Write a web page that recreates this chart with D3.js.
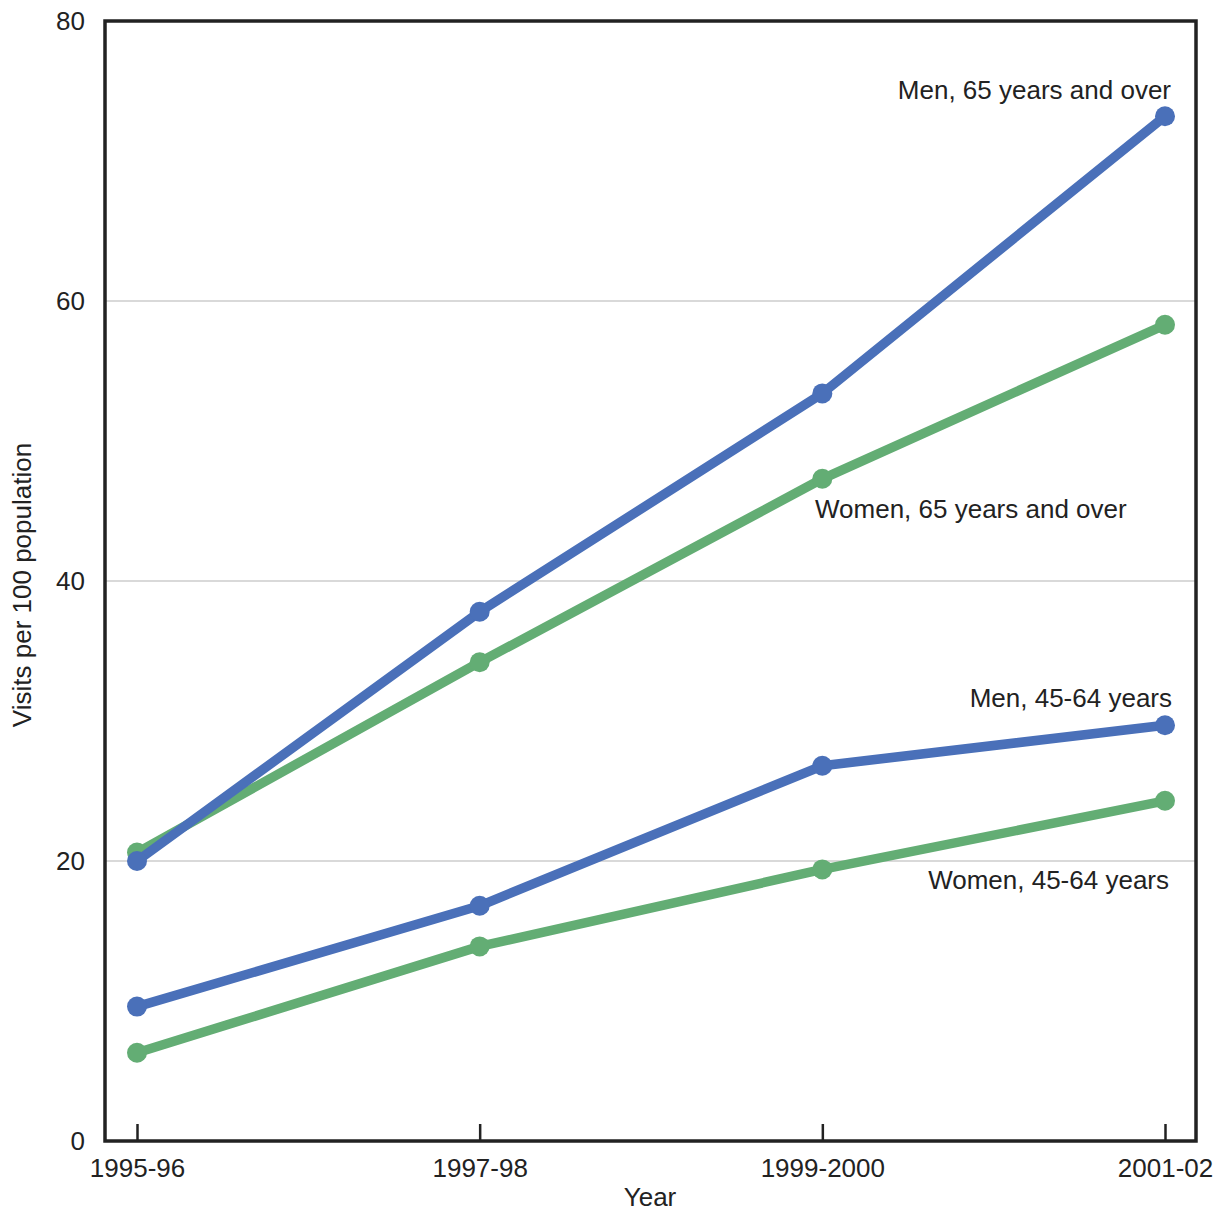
<!DOCTYPE html>
<html><head><meta charset="utf-8">
<script src="https://cdn.jsdelivr.net/npm/d3@7"></script>
<style>body{margin:0;background:#fff}text{font-family:"Liberation Sans",Arial,sans-serif;fill:#222}</style>
</head><body><svg id="c" width="1221" height="1213"></svg>
<script>
const years = ["1995-96","1997-98","1999-2000","2001-02"];
const men65 = [20.0, 37.8, 53.4, 73.2];
const women65 = [20.6, 34.2, 47.3, 58.3];
const men4564 = [9.6, 16.8, 26.8, 29.7];
const women4564 = [6.3, 13.9, 19.4, 24.3];
const yTicks = [0, 20, 40, 60, 80];
const seriesNames = ["Men, 65 years and over","Women, 65 years and over","Men, 45-64 years","Women, 45-64 years"];

const blue = "#4a70b9", green = "#63ad74";
const FS = "26px";
const svg = d3.select("#c");
const L = 105, R = 1196, T = 21, B = 1141;
const x = d3.scalePoint().domain(years).range([137, 1165]);
const y = d3.scaleLinear().domain([0, 80]).range([B, T]);

// gridlines
svg.append("g").selectAll("line").data(yTicks.filter(d => d > 0 && d < 80)).join("line")
  .attr("x1", L).attr("x2", R).attr("y1", d => y(d)).attr("y2", d => y(d))
  .attr("stroke", "#d9d9d9").attr("stroke-width", 2);

// y axis labels
const ya = svg.append("g").attr("transform", `translate(${L},0)`)
  .call(d3.axisLeft(y).tickValues(yTicks).tickSize(0).tickPadding(20));
ya.select(".domain").remove();
ya.selectAll("text").style("font-size", FS).attr("fill", "#222");

// x axis
const xa = svg.append("g").attr("transform", `translate(0,${B})`)
  .call(d3.axisBottom(x).tickSize(-17).tickPadding(22));
xa.select(".domain").remove();
xa.selectAll("line").attr("stroke", "#222").attr("stroke-width", 2.5);
xa.selectAll("text").style("font-size", FS).attr("fill", "#222").attr("dy", "0.55em");

// frame
svg.append("rect").attr("x", L).attr("y", T).attr("width", R - L).attr("height", B - T)
  .attr("fill", "none").attr("stroke", "#222").attr("stroke-width", 3.5);

const series = [
  {vals: women65, color: green},
  {vals: men65, color: blue},
  {vals: women4564, color: green},
  {vals: men4564, color: blue}
];
const line = d3.line().x((d, i) => x(years[i])).y(d => y(d));
series.forEach(s => {
  svg.append("path").attr("d", line(s.vals)).attr("fill", "none")
    .attr("stroke", s.color).attr("stroke-width", 9.5).attr("stroke-linejoin", "round");
  svg.append("g").selectAll("circle").data(s.vals).join("circle")
    .attr("cx", (d, i) => x(years[i])).attr("cy", d => y(d)).attr("r", 10).attr("fill", s.color);
});

// series labels
const lab = [
  {t: seriesNames[0], x: 1171, y: 99, a: "end"},
  {t: seriesNames[1], x: 815, y: 518, a: "start"},
  {t: seriesNames[2], x: 1172, y: 707, a: "end"},
  {t: seriesNames[3], x: 1169, y: 889, a: "end"}
];
svg.append("g").selectAll("text").data(lab).join("text")
  .attr("x", d => d.x).attr("y", d => d.y).attr("text-anchor", d => d.a)
  .style("font-size", FS).text(d => d.t);

// axis titles
svg.append("text").attr("x", 650).attr("y", 1206).attr("text-anchor", "middle")
  .style("font-size", FS).text("Year");
svg.append("text").attr("transform", "translate(31,585) rotate(-90)").attr("text-anchor", "middle")
  .style("font-size", FS).text("Visits per 100 population");
</script></body></html>
